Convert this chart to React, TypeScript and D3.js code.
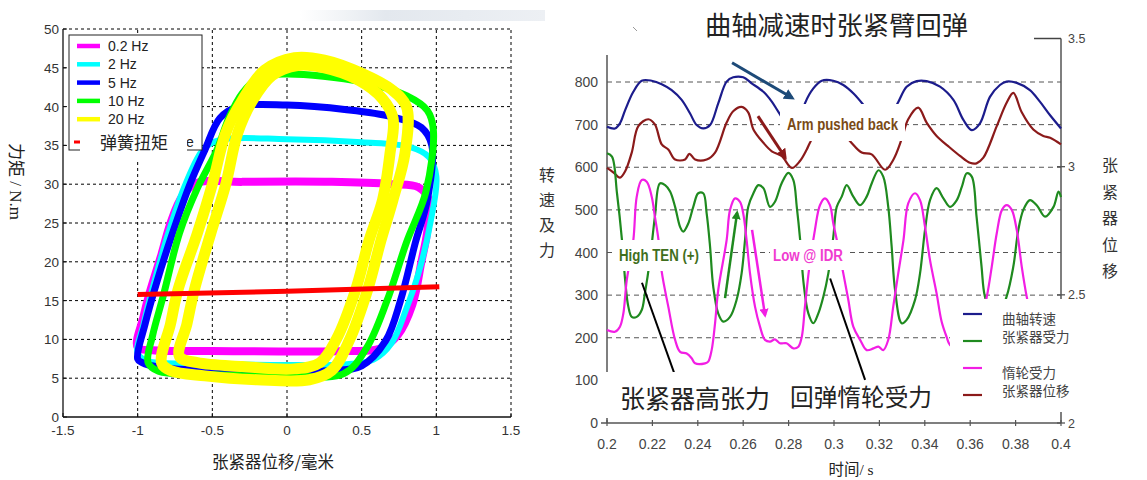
import React from 'react';
import * as d3 from 'd3';

type P = [number, number];

// ---------------- Left chart: tensioner hysteresis loops ----------------
const loopXTicks = [-1.5, -1, -0.5, 0, 0.5, 1, 1.5];
const loopYTicks = [0, 5, 10, 15, 20, 25, 30, 35, 40, 45, 50];
const loopLabels = ['0.2 Hz', '2 Hz', '5 Hz', '10 Hz', '20 Hz'];
const loopColors = ['#ff00ff', '#00ffff', '#0000ff', '#00ff00', '#ffff00'];
const springLabel = '弹簧扭矩';

const loop02Hz: P[] = [
  [-1.0, 9], [-0.96, 13], [-0.92, 16], [-0.84, 21], [-0.78, 25], [-0.7, 28.5], [-0.6, 30.2],
  [-0.3, 30.3], [0.3, 30.3], [0.7, 30], [0.88, 29.6], [0.95, 28], [0.94, 24], [0.9, 20],
  [0.84, 14.5], [0.74, 10.5], [0.62, 8.8], [0.4, 8.5], [-0.5, 8.5], [-0.9, 8.6],
];
const loop2Hz: P[] = [
  [-1.0, 8.2], [-0.96, 12], [-0.88, 18], [-0.79, 24], [-0.68, 30], [-0.56, 34.5], [-0.45, 35.7],
  [0, 35.8], [0.5, 35.4], [0.82, 34.8], [0.95, 33.5], [1.0, 31], [0.96, 25], [0.88, 18.5],
  [0.8, 14], [0.7, 9.5], [0.58, 7.4], [0.4, 6.8], [0, 6.7], [-0.6, 6.9], [-0.93, 7.2],
];
const loop5Hz: P[] = [
  [-1.0, 7.5], [-0.95, 12], [-0.87, 17.5], [-0.77, 23.5], [-0.65, 30], [-0.55, 34.4],
  [-0.45, 38.5], [-0.33, 40], [0, 40.2], [0.4, 39.6], [0.7, 38.7], [0.9, 37.3], [0.97, 35],
  [0.94, 28], [0.86, 22.5], [0.76, 15], [0.66, 9.8], [0.5, 6.6], [0.3, 6], [-0.5, 6],
  [-0.85, 6.4], [-0.97, 7],
];
const loop10Hz: P[] = [
  [-0.93, 7], [-0.9, 10.5], [-0.83, 15.5], [-0.72, 23.7], [-0.6, 29.5], [-0.47, 34.4],
  [-0.39, 38.5], [-0.3, 41.7], [-0.18, 43.8], [0, 44.2], [0.5, 43.2], [0.8, 41.4],
  [0.94, 39.5], [0.98, 37], [0.93, 29], [0.8, 22.5], [0.67, 15], [0.53, 8.8], [0.38, 5.6],
  [0, 5.3], [-0.6, 5.5], [-0.86, 5.9],
];
const loop20HzOuter: P[] = [
  [-0.84, 7], [-0.78, 12], [-0.73, 16.4], [-0.6, 23.7], [-0.5, 30], [-0.41, 36.6],
  [-0.3, 40.8], [-0.15, 44.7], [0.05, 46.3], [0.25, 46], [0.5, 44.3], [0.7, 42.2], [0.8, 40],
  [0.79, 34], [0.71, 28], [0.63, 22.8], [0.54, 16.4], [0.42, 10], [0.3, 6], [0.15, 4.8],
  [-0.2, 4.8], [-0.55, 5.3], [-0.78, 6],
];
const loop20HzInner: P[] = [
  [-0.72, 7.8], [-0.67, 12], [-0.62, 16.4], [-0.51, 23.7], [-0.41, 30], [-0.33, 36.6],
  [-0.23, 40.8], [-0.1, 44], [0.07, 45.3], [0.25, 45], [0.47, 43.5], [0.64, 41], [0.71, 38.5],
  [0.69, 34], [0.64, 28], [0.55, 22.8], [0.46, 16.4], [0.33, 10], [0.22, 7], [0.05, 6.2],
  [-0.3, 6.5], [-0.6, 7],
];
const springTorque: P[] = [[-1.0, 15.8], [0, 16.2], [1.02, 16.8]];

// ---------------- Right chart: crank deceleration ----------------
const timeTicks = [0.2, 0.22, 0.24, 0.26, 0.28, 0.3, 0.32, 0.34, 0.36, 0.38, 0.4];
const forceTicks = [0, 100, 200, 300, 400, 500, 600, 700, 800];
const dispTicks = [2, 2.5, 3, 3.5];
const seriesNames = ['曲轴转速', '张紧器受力', '惰轮受力', '张紧器位移'];
const seriesColors = ['#1c1c8c', '#1f8a1f', '#f21ee4', '#8b1a1a'];

const crankSpeed: P[] = [
  [0.2, 695], [0.2035, 691], [0.2057, 703], [0.208, 734], [0.2116, 777], [0.2153, 803],
  [0.2197, 803], [0.2241, 795], [0.2285, 781], [0.2329, 758], [0.2366, 726], [0.2395, 699],
  [0.2424, 691], [0.2454, 699], [0.249, 750], [0.2527, 801], [0.2556, 811], [0.26, 811],
  [0.2637, 797], [0.2689, 777], [0.2726, 754], [0.2755, 730], [0.281, 690], [0.2845, 700],
  [0.2872, 750], [0.2909, 785], [0.2946, 803], [0.2997, 803], [0.3041, 793], [0.3086, 773],
  [0.313, 746], [0.3205, 692], [0.3276, 746], [0.332, 789], [0.3364, 802], [0.3408, 802],
  [0.3467, 789], [0.3526, 758], [0.357, 711], [0.3607, 687], [0.3643, 703], [0.3687, 765],
  [0.3731, 793], [0.376, 801], [0.3805, 798], [0.3863, 781], [0.3907, 754], [0.3952, 722],
  [0.4, 691],
];
const tensionerForce: P[] = [
  [0.2, 633], [0.2022, 625], [0.2044, 539], [0.2066, 429], [0.208, 335], [0.2094, 273],
  [0.2109, 249], [0.2131, 249], [0.2153, 265], [0.2167, 304], [0.2189, 382], [0.2211, 484],
  [0.2233, 562], [0.2256, 558], [0.2278, 543], [0.23, 507], [0.2322, 460], [0.2336, 449],
  [0.2358, 468], [0.238, 507], [0.2402, 539], [0.2424, 539], [0.2439, 492], [0.2454, 414],
  [0.2468, 320], [0.249, 257], [0.2512, 238], [0.2542, 249], [0.2571, 289], [0.2593, 351],
  [0.2608, 429], [0.2622, 507], [0.2645, 539], [0.2667, 558], [0.2689, 551], [0.2718, 507],
  [0.274, 519], [0.2769, 562], [0.2799, 587], [0.2821, 570], [0.2836, 507], [0.2851, 429],
  [0.2866, 328], [0.2887, 257], [0.2909, 234], [0.2931, 257], [0.2953, 296], [0.2975, 351],
  [0.2997, 437], [0.3012, 507], [0.3034, 531], [0.3056, 558], [0.3085, 531], [0.3115, 511],
  [0.3144, 531], [0.3166, 562], [0.3196, 593], [0.3217, 578], [0.3239, 507], [0.3254, 414],
  [0.3269, 312], [0.3298, 234], [0.332, 242], [0.3357, 289], [0.3379, 351], [0.3401, 453],
  [0.3423, 523], [0.3452, 551], [0.3482, 527], [0.3511, 507], [0.3541, 523], [0.3563, 554],
  [0.3585, 586], [0.3607, 578], [0.3628, 484], [0.365, 367], [0.3665, 296], [0.371, 235],
  [0.376, 296], [0.379, 367], [0.3812, 453], [0.3834, 500], [0.3863, 523], [0.3893, 511],
  [0.393, 484], [0.3967, 507], [0.3989, 543], [0.4, 530],
];
const idlerForce: P[] = [
  [0.2, 218], [0.2035, 214], [0.2057, 226], [0.2072, 257], [0.2087, 335], [0.2116, 429],
  [0.2131, 531], [0.2153, 570], [0.2175, 566], [0.2197, 531], [0.2211, 484], [0.2226, 433],
  [0.2241, 355], [0.227, 273], [0.23, 195], [0.2322, 167], [0.2351, 163], [0.2373, 152],
  [0.2388, 140], [0.2432, 140], [0.2446, 144], [0.2461, 171], [0.2476, 234], [0.249, 312],
  [0.2527, 429], [0.2542, 500], [0.2564, 527], [0.2586, 519], [0.26, 492], [0.2615, 429],
  [0.263, 351], [0.2652, 273], [0.2674, 226], [0.2696, 195], [0.2718, 191], [0.274, 196],
  [0.2762, 187], [0.2791, 187], [0.2821, 175], [0.2843, 179], [0.2858, 202], [0.2872, 273],
  [0.289, 360], [0.2916, 453], [0.2938, 511], [0.296, 527], [0.2982, 511], [0.2997, 468],
  [0.302, 410], [0.3041, 351], [0.3063, 289], [0.3085, 226], [0.3115, 195], [0.3144, 171],
  [0.3174, 175], [0.3196, 179], [0.3217, 171], [0.3239, 195], [0.3261, 273], [0.3283, 351],
  [0.3306, 429], [0.3327, 515], [0.3357, 539], [0.3379, 523], [0.3401, 460], [0.3423, 382],
  [0.3452, 304], [0.3474, 238], [0.3496, 202], [0.3511, 183], [0.356, 170], [0.362, 180],
  [0.3673, 296], [0.3695, 367], [0.3717, 445], [0.374, 500], [0.3761, 511], [0.3783, 500],
  [0.3805, 453], [0.3827, 367], [0.3849, 296], [0.388, 220],
];
// tensioner displacement, mm (right axis)
const tensionerDisp: P[] = [
  [0.2, 2.995], [0.2029, 2.977], [0.2057, 2.957], [0.208, 2.982], [0.2109, 3.055],
  [0.2138, 3.158], [0.2182, 3.185], [0.2211, 3.165], [0.2241, 3.087], [0.227, 3.067],
  [0.23, 3.028], [0.2344, 3.028], [0.2363, 3.05], [0.2388, 3.028], [0.2439, 3.028],
  [0.2476, 3.055], [0.2527, 3.172], [0.2557, 3.217], [0.2593, 3.233], [0.2622, 3.212],
  [0.2645, 3.145], [0.2689, 3.093], [0.2726, 3.06], [0.2769, 3.042], [0.2814, 2.995],
  [0.285, 3.022], [0.288, 3.067], [0.2894, 3.093], [0.297, 3.2], [0.307, 3.1],
  [0.3122, 3.055], [0.3166, 3.048], [0.3225, 2.988], [0.3262, 3.028], [0.3298, 3.107],
  [0.3327, 3.185], [0.3371, 3.23], [0.3408, 3.172], [0.3452, 3.12], [0.3503, 3.08],
  [0.3555, 3.042], [0.3599, 3.015], [0.3628, 3.013], [0.3658, 3.035], [0.3717, 3.158],
  [0.3761, 3.25], [0.379, 3.288], [0.3827, 3.212], [0.3878, 3.145], [0.3922, 3.12],
  [0.3952, 3.113], [0.4, 3.087],
];

// annotation arrows / pointer lines in data units: [t0, f0, t1, f1]
const arrowCrank = [0.2551, 845, 0.2815, 763];
const arrowDisp = [0.2665, 720, 0.2784, 624];
const arrowTen = [0.252, 293, 0.2573, 493];
const arrowIdler = [0.2639, 453, 0.2696, 253];
const pointerHighTen = [0.2154, 329, 0.2315, 89];
const pointerIdler = [0.2983, 339, 0.3137, 101];

const CJK = "'Noto Sans CJK SC', 'Noto Sans', sans-serif";
const SANS = "'Liberation Sans', Arial, sans-serif";
const NARROW = "'Liberation Sans Narrow', 'Liberation Sans', Arial, sans-serif";

export default function App() {
  // left scales
  const xL = d3.scaleLinear().domain([-1.5, 1.5]).range([63, 511]);
  const yLf = d3.scaleLinear().domain([0, 50]).range([417, 29]);
  const loopLine = d3
    .line<P>()
    .x((d) => xL(d[0]))
    .y((d) => yLf(d[1]))
    .curve(d3.curveCatmullRomClosed.alpha(0.5));
  const openLine = d3.line<P>().x((d) => xL(d[0])).y((d) => yLf(d[1]));

  // right scales
  const xR = d3.scaleLinear().domain([0.2, 0.4]).range([607, 1061]);
  const yF = d3.scaleLinear().domain([0, 800]).range([423, 82]);
  const yD = d3.scaleLinear().domain([2, 3.5]).range([423, 38.5]);
  const forceLine = d3
    .line<P>()
    .x((d) => xR(d[0]))
    .y((d) => yF(d[1]))
    .curve(d3.curveCatmullRom.alpha(0.5));
  const dispLine = d3
    .line<P>()
    .x((d) => xR(d[0]))
    .y((d) => yD(d[1]))
    .curve(d3.curveCatmullRom.alpha(0.5));

  const loops: { data: P[]; color: string; w: number }[] = [
    { data: loop02Hz, color: loopColors[0], w: 8 },
    { data: loop2Hz, color: loopColors[1], w: 6 },
    { data: loop5Hz, color: loopColors[2], w: 7 },
    { data: loop10Hz, color: loopColors[3], w: 7 },
    { data: loop20HzOuter, color: loopColors[4], w: 11 },
    { data: loop20HzInner, color: loopColors[4], w: 11 },
  ];

  const arrow = (a: number[], color: string, id: string, w: number) => (
    <line
      x1={xR(a[0])}
      y1={yF(a[1])}
      x2={xR(a[2])}
      y2={yF(a[3])}
      stroke={color}
      strokeWidth={w}
      markerEnd={`url(#${id})`}
    />
  );

  const markers: [string, string][] = [
    ['mBlue', '#1d4a78'],
    ['mRed', '#8b1a1a'],
    ['mGreen', '#1f8a1f'],
    ['mMag', '#f21ee4'],
  ];

  const legendLineY = [314, 341, 368, 395];
  const legendTextY = [319, 337, 373, 391];

  return (
    <svg
      width={1147}
      height={480}
      style={{ position: 'absolute', left: 0, top: 0, background: '#fff' }}
    >
      <defs>
        <linearGradient id="topBand" x1="0" x2="1" y1="0" y2="0">
          <stop offset="0" stopColor="#ffffff" />
          <stop offset="0.35" stopColor="#e3e8ee" />
          <stop offset="1" stopColor="#edf0f4" />
        </linearGradient>
        {markers.map(([id, c]) => (
          <marker
            key={id}
            id={id}
            viewBox="0 0 10 10"
            refX="7"
            refY="5"
            markerWidth="3.6"
            markerHeight="3.6"
            orient="auto"
          >
            <path d="M0,0 L10,5 L0,10 z" fill={c} />
          </marker>
        ))}
      </defs>
      <rect x={0} y={0} width={1147} height={480} fill="#fff" />
      <rect x={300} y={10} width={245} height={11} fill="url(#topBand)" />
      <line x1={633} y1={27} x2={637} y2={31} stroke="#999" strokeWidth={1} />

      {/* ---------------- LEFT CHART ---------------- */}
      <g>
        {loopXTicks.slice(1).map((t) => (
          <line
            key={'gx' + t}
            x1={xL(t)}
            x2={xL(t)}
            y1={yLf(0)}
            y2={yLf(50)}
            stroke="#000"
            strokeWidth={1}
            strokeDasharray="3,3"
          />
        ))}
        {loopYTicks.slice(1).map((t) => (
          <line
            key={'gy' + t}
            x1={xL(-1.5)}
            x2={xL(1.5)}
            y1={yLf(t)}
            y2={yLf(t)}
            stroke="#000"
            strokeWidth={1}
            strokeDasharray="3,3"
          />
        ))}
        <line x1={xL(-1.5)} x2={xL(-1.5)} y1={yLf(0)} y2={yLf(50)} stroke="#111" strokeWidth={1.3} />
        <line x1={xL(-1.5)} x2={xL(1.5)} y1={yLf(0)} y2={yLf(0)} stroke="#111" strokeWidth={1.3} />
        {loopXTicks.map((t) => (
          <g key={'tx' + t}>
            <line x1={xL(t)} x2={xL(t)} y1={yLf(0)} y2={yLf(0) - 4} stroke="#111" />
            <text
              x={xL(t)}
              y={yLf(0) + 18}
              textAnchor="middle"
              fontFamily={SANS}
              fontSize={13.5}
              fill="#333"
            >
              {String(t)}
            </text>
          </g>
        ))}
        {loopYTicks.map((t) => (
          <g key={'ty' + t}>
            <line x1={xL(-1.5)} x2={xL(-1.5) + 4} y1={yLf(t)} y2={yLf(t)} stroke="#111" />
            <text
              x={xL(-1.5) - 4}
              y={yLf(t) + 5}
              textAnchor="end"
              fontFamily={SANS}
              fontSize={13.5}
              fill="#333"
            >
              {t}
            </text>
          </g>
        ))}

        {loops.map((l, i) => (
          <path
            key={'loop' + i}
            d={loopLine(l.data) || ''}
            fill="none"
            stroke={l.color}
            strokeWidth={l.w}
            strokeLinejoin="round"
          />
        ))}
        <path
          d={openLine(springTorque) || ''}
          fill="none"
          stroke="#ff0000"
          strokeWidth={5}
          strokeLinecap="butt"
        />

        {/* legend */}
        <rect x={69} y={35} width={133} height={115} fill="#fff" stroke="#222" strokeWidth={1} />
        {loopLabels.map((lab, i) => (
          <g key={lab}>
            <line
              x1={77}
              x2={100}
              y1={46 + i * 18.3}
              y2={46 + i * 18.3}
              stroke={loopColors[i]}
              strokeWidth={4.5}
            />
            <text x={108} y={51 + i * 18.3} fontFamily={SANS} fontSize={14} fill="#222">
              {lab}
            </text>
          </g>
        ))}
        <line x1={74} x2={80} y1={142} y2={142} stroke="#ff0000" strokeWidth={3} />
        <text x={186} y={147} fontFamily={SANS} fontSize={14} fill="#222">
          e
        </text>
        <rect x={80} y={126} width={107} height={34} fill="#fff" />
        <text x={100} y={149} fontFamily={CJK} fontSize={17} fill="#222">
          {springLabel}
        </text>

        <text
          transform="translate(10,143) rotate(90)"
          fontFamily={"'Liberation Serif', 'Noto Sans CJK SC', serif"}
          fontSize={17}
          fill="#222"
        >
          <tspan fontFamily={CJK}>力矩</tspan>
          {' / N.m'}
        </text>
        <text
          x={273}
          y={468}
          textAnchor="middle"
          fontFamily={CJK}
          fontSize={16.5}
          fill="#222"
        >
          张紧器位移/毫米
        </text>
      </g>

      {/* ---------------- RIGHT CHART ---------------- */}
      <g>
        {forceTicks
          .filter((t) => t >= 200)
          .map((t) => (
            <line
              key={'rg' + t}
              x1={xR(0.2)}
              x2={xR(0.4)}
              y1={yF(t)}
              y2={yF(t)}
              stroke="#555"
              strokeWidth={1}
              strokeDasharray="5,4"
            />
          ))}
        <line x1={xR(0.2)} x2={xR(0.2)} y1={55} y2={yF(0)} stroke="#555" strokeWidth={1.5} />
        <line x1={xR(0.2)} x2={xR(0.4)} y1={yF(0)} y2={yF(0)} stroke="#555" strokeWidth={1.5} />
        <line x1={xR(0.2) - 6} x2={xR(0.2)} y1={yF(0)} y2={yF(0)} stroke="#555" strokeWidth={1.5} />
        {timeTicks.map((t) => (
          <g key={'rt' + t}>
            <line x1={xR(t)} x2={xR(t)} y1={yF(0) - 3} y2={yF(0) + 3} stroke="#555" strokeWidth={1.2} />
            <text
              x={xR(t)}
              y={yF(0) + 26}
              textAnchor="middle"
              fontFamily={NARROW}
              fontSize={14}
              fill="#444"
            >
              {String(t)}
            </text>
          </g>
        ))}
        {forceTicks.map((t) => (
          <text
            key={'rf' + t}
            x={598}
            y={yF(t) + 5}
            textAnchor="end"
            fontFamily={NARROW}
            fontSize={14}
            fill="#444"
          >
            {t}
          </text>
        ))}
        <line x1={xR(0.4)} x2={xR(0.4)} y1={yD(3.5)} y2={yD(2)} stroke="#555" strokeWidth={1.5} />
        <line x1={xR(0.4) - 27} x2={xR(0.4)} y1={yD(3.5)} y2={yD(3.5)} stroke="#444" strokeWidth={1.5} />
        {dispTicks.map((t) => (
          <g key={'rd' + t}>
            {t < 3.5 && (
              <line
                x1={xR(0.4) - 4}
                x2={xR(0.4) + 4}
                y1={yD(t)}
                y2={yD(t)}
                stroke="#555"
                strokeWidth={1.3}
              />
            )}
            <text
              x={1068}
              y={yD(t) + 4.5}
              fontFamily={NARROW}
              fontSize={12.5}
              fill="#444"
            >
              {String(t)}
            </text>
          </g>
        ))}

        {/* series */}
        <path d={forceLine(crankSpeed) || ''} fill="none" stroke={seriesColors[0]} strokeWidth={2.2} />
        <path d={dispLine(tensionerDisp) || ''} fill="none" stroke={seriesColors[3]} strokeWidth={2.2} />
        <path d={forceLine(tensionerForce) || ''} fill="none" stroke={seriesColors[1]} strokeWidth={2.2} />
        <path d={forceLine(idlerForce) || ''} fill="none" stroke={seriesColors[2]} strokeWidth={2.2} />

        {/* pointer lines */}
        <line
          x1={xR(pointerHighTen[0])}
          y1={yF(pointerHighTen[1])}
          x2={xR(pointerHighTen[2])}
          y2={yF(pointerHighTen[3])}
          stroke="#000"
          strokeWidth={2}
        />
        <line
          x1={xR(pointerIdler[0])}
          y1={yF(pointerIdler[1])}
          x2={xR(pointerIdler[2])}
          y2={yF(pointerIdler[3])}
          stroke="#000"
          strokeWidth={2}
        />

        {/* label boxes */}
        <rect x={780} y={104} width={125} height={37} fill="#fff" />
        <text
          x={787}
          y={130}
          fontFamily={NARROW}
          fontWeight="bold"
          fontSize={16}
          fill="#7a4a16"
          textLength={111}
          lengthAdjust="spacingAndGlyphs"
        >
          Arm pushed back
        </text>
        <rect x={614} y={240} width={89} height={31} fill="#fff" />
        <text
          x={619}
          y={261}
          fontFamily={NARROW}
          fontWeight="bold"
          fontSize={16}
          fill="#3f6e1c"
          textLength={80}
          lengthAdjust="spacingAndGlyphs"
        >
          High TEN (+)
        </text>
        <rect x={770} y={240} width={77} height={30} fill="#fff" />
        <text
          x={773}
          y={261}
          fontFamily={NARROW}
          fontWeight="bold"
          fontSize={16}
          fill="#f03cd0"
          textLength={70}
          lengthAdjust="spacingAndGlyphs"
        >
          Low @ IDR
        </text>

        {/* arrows */}
        {arrow(arrowCrank, '#1d4a78', 'mBlue', 3)}
        {arrow(arrowDisp, '#8b1a1a', 'mRed', 3)}
        {arrow(arrowTen, '#1f8a1f', 'mGreen', 2.5)}
        {arrow(arrowIdler, '#f21ee4', 'mMag', 2.5)}

        {/* big annotation texts */}
        <rect x={603} y={372} width={175} height={46} fill="#fff" />
        <text x={620} y={408} fontFamily={CJK} fontSize={25} fill="#222" textLength={150} lengthAdjust="spacingAndGlyphs">
          张紧器高张力
        </text>
        <rect x={785} y={381} width={152} height={34} fill="#fff" />
        <text x={790} y={406} fontFamily={CJK} fontSize={24} fill="#222" textLength={142} lengthAdjust="spacingAndGlyphs">
          回弹惰轮受力
        </text>

        {/* legend */}
        <rect x={950} y={299} width={133} height={113} fill="#fff" />
        {seriesNames.map((n, i) => (
          <g key={n}>
            <line
              x1={963}
              x2={982}
              y1={legendLineY[i]}
              y2={legendLineY[i]}
              stroke={seriesColors[i]}
              strokeWidth={2.2}
            />
            <text x={1002} y={legendTextY[i] + 5} fontFamily={CJK} fontSize={13.5} fill="#444">
              {n}
            </text>
          </g>
        ))}

        {/* titles */}
        <text x={705} y={35} fontFamily={CJK} fontSize={26} fill="#222" textLength={263} lengthAdjust="spacingAndGlyphs">
          曲轴减速时张紧臂回弹
        </text>
        <text x={851} y={475} textAnchor="middle" fontFamily={"'Liberation Serif', 'Noto Sans CJK SC', serif"} fontSize={15.5} fill="#222">
          <tspan fontFamily={CJK}>时间</tspan>/ s
        </text>
        {['转', '速', '及', '力'].map((c, i) => (
          <text key={c} x={547} y={181 + i * 25} textAnchor="middle" fontFamily={CJK} fontSize={16} fill="#333">
            {c}
          </text>
        ))}
        {['张', '紧', '器', '位', '移'].map((c, i) => (
          <text key={c} x={1110} y={171 + i * 26.5} textAnchor="middle" fontFamily={CJK} fontSize={16} fill="#333">
            {c}
          </text>
        ))}
      </g>
    </svg>
  );
}
